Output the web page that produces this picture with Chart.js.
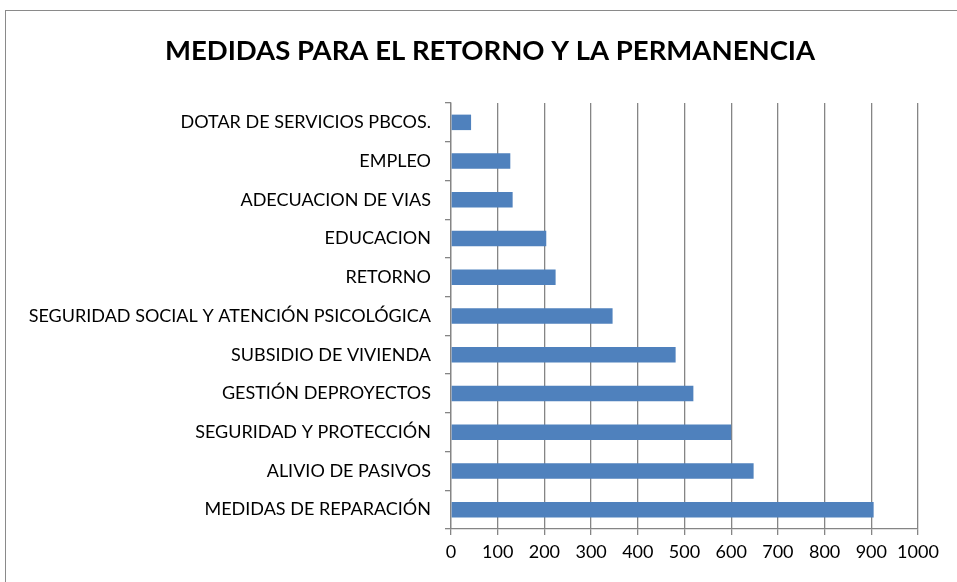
<!DOCTYPE html>
<html>
<head>
<meta charset="utf-8">
<script src="https://cdn.jsdelivr.net/npm/chart.js@4.4.0/dist/chart.umd.min.js"></script>
<style>
  html, body { margin:0; padding:0; background:#fff; }
  #wrap { position:relative; width:957px; height:582px; }
</style>
</head>
<body>
<div id="wrap"><canvas id="chart" width="957" height="582"></canvas></div>
<script>
/* datos */
const categorias = [
  'DOTAR DE SERVICIOS PBCOS.',
  'EMPLEO',
  'ADECUACION DE VIAS',
  'EDUCACION',
  'RETORNO',
  'SEGURIDAD SOCIAL Y ATENCIÓN PSICOLÓGICA',
  'SUBSIDIO DE VIVIENDA',
  'GESTIÓN DEPROYECTOS',
  'SEGURIDAD Y PROTECCIÓN',
  'ALIVIO DE PASIVOS',
  'MEDIDAS DE REPARACIÓN'
];
const valores = [43, 127, 132, 204, 224, 346, 481, 519, 600, 648, 905];
const xTicks = [0, 100, 200, 300, 400, 500, 600, 700, 800, 900, 1000];
const titulo = 'MEDIDAS PARA EL RETORNO Y LA PERMANENCIA';

const FONT = 'Lato, "Liberation Sans", sans-serif';

/* marco exterior + título (centrado sobre el marco, no sobre el canvas) */
const marco = {
  id: 'marco',
  beforeDraw(chart){
    const c = chart.ctx;
    c.save();
    c.fillStyle = '#fff';
    c.fillRect(0, 0, chart.width, chart.height);
    c.strokeStyle = '#8a8a8a';
    c.lineWidth = 1;
    c.strokeRect(5.5, 10.5, 1000, 1000);
    c.restore();
  },
  afterDraw(chart){
    const c = chart.ctx;
    c.save();
    c.fillStyle = '#000';
    c.font = 'bold 27.5px ' + FONT;
    c.textAlign = 'center';
    c.textBaseline = 'middle';
    c.fillText(titulo, 490, 51);
    c.restore();
  }
};

new Chart(document.getElementById('chart'), {
  type: 'bar',
  data: {
    labels: categorias,
    datasets: [{
      data: valores,
      backgroundColor: '#4F81BD',
      borderColor: '#4F81BD',
      borderWidth: 0,
      barPercentage: 0.8,
      categoryPercentage: 0.5
    }]
  },
  options: {
    indexAxis: 'y',
    responsive: false,
    animation: false,
    devicePixelRatio: 1,
    layout: { padding: { left: 6, right: 39, top: 103, bottom: 0 } },
    plugins: {
      legend: { display: false },
      tooltip: { enabled: false },
      title: { display: false }
    },
    scales: {
      x: {
        min: 0, max: 1000,
        afterBuildTicks(s){ s.ticks = xTicks.map(v => ({ value: v })); },
        afterFit(s){ s.height = 53; },
        grid: { color: '#858585', lineWidth: 1.3, tickLength: 6, drawTicks: true },
        border: { color: '#858585', width: 1.3 },
        ticks: {
          color: '#000', font: { family: FONT, size: 18 }, padding: 6,
          maxRotation: 0, minRotation: 0, autoSkip: false,
          callback: v => String(v)
        }
      },
      y: {
        afterFit(s){ s.width = 445; },
        grid: { drawOnChartArea: false, color: '#858585', lineWidth: 1.3, tickLength: 6, offset: true },
        border: { color: '#858585', width: 1.3 },
        ticks: { color: '#000', font: { family: FONT, size: 18 }, padding: 14, autoSkip: false }
      }
    }
  },
  plugins: [marco]
});
</script>
</body>
</html>
